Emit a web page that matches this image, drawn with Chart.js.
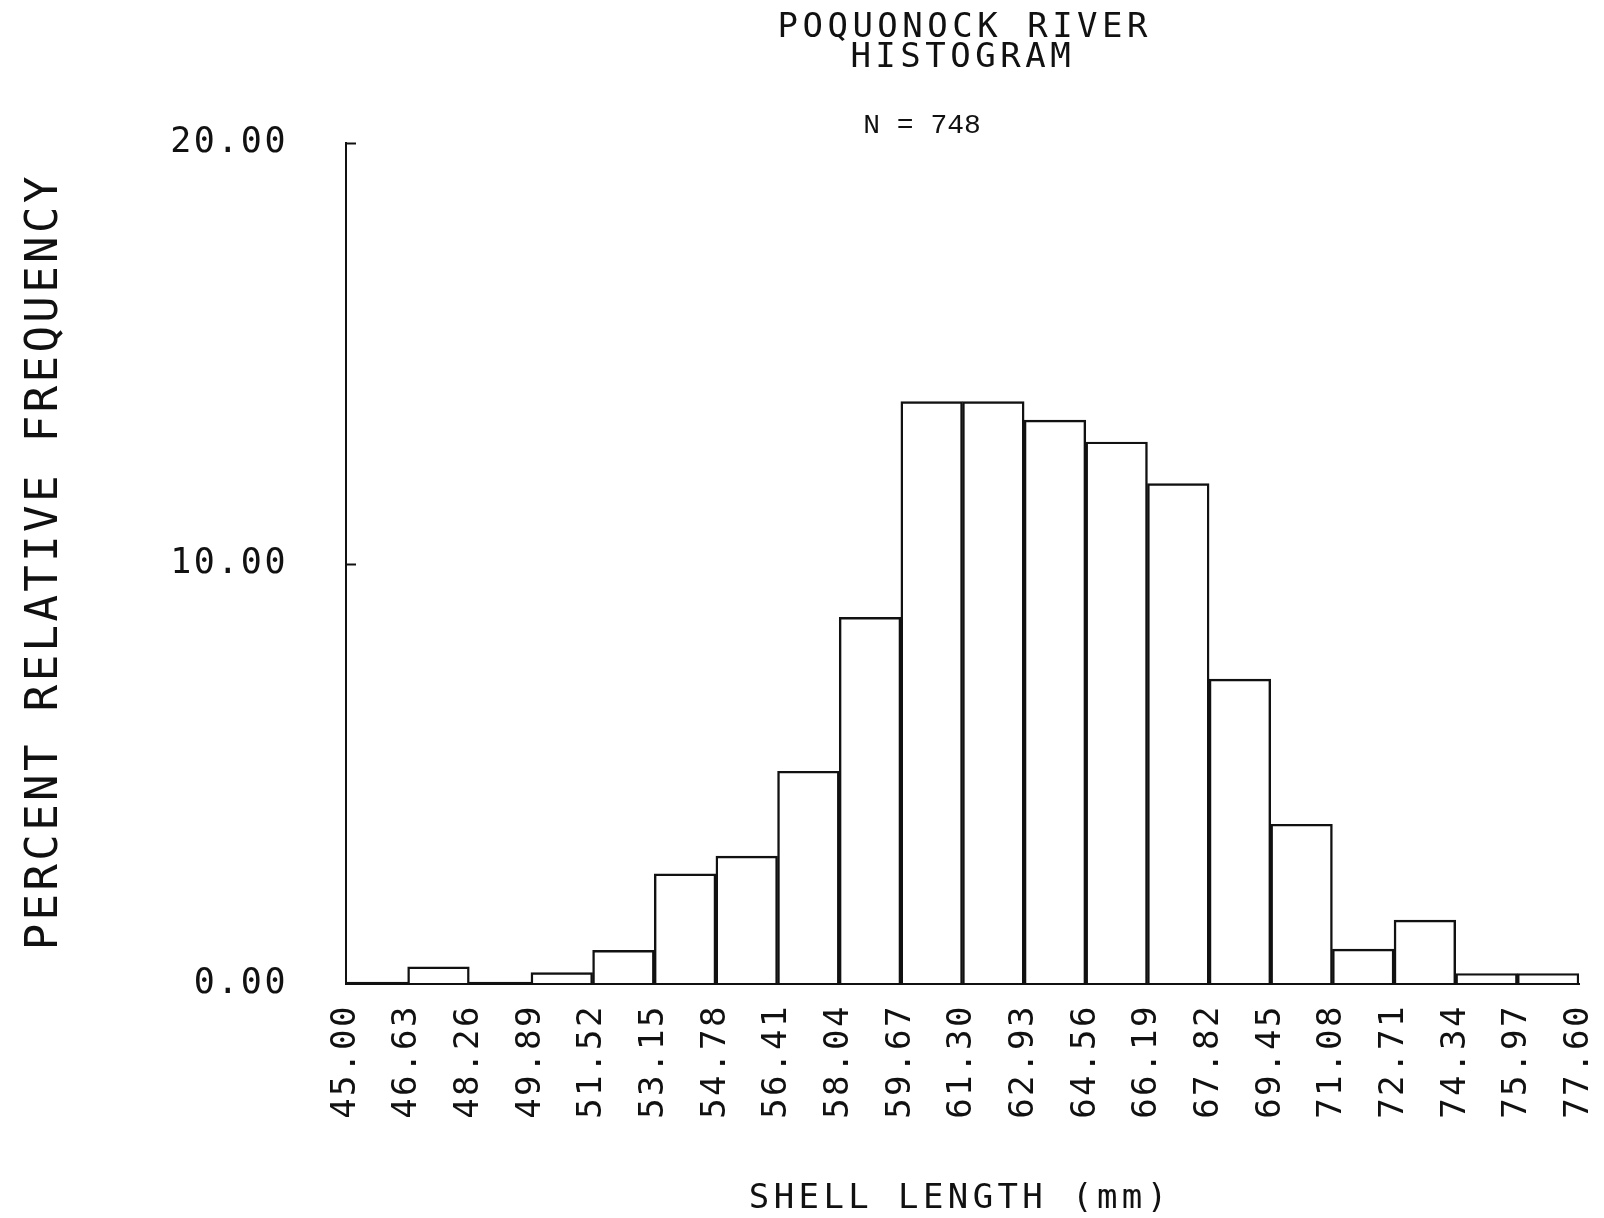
<!DOCTYPE html>
<html>
<head>
<meta charset="utf-8">
<title>Poquonock River histogram</title>
<script src="https://cdn.jsdelivr.net/npm/chart.js@4.4.1/dist/chart.umd.min.js"></script>
<style>
  html, body { margin: 0; padding: 0; background: #fff; }
  canvas { display: block; }
</style>
</head>
<body>
<canvas id="histogram" width="1604" height="1218"></canvas>
<script>
// shell length class boundaries (mm)
const binEdges = [45.00, 46.63, 48.26, 49.89, 51.52, 53.15, 54.78, 56.41, 58.04, 59.67, 61.30,
                  62.93, 64.56, 66.19, 67.82, 69.45, 71.08, 72.71, 74.34, 75.97, 77.60];
// percent of shells falling in each class
const percentFreq = [0.00, 0.41, 0.00, 0.27, 0.80, 2.62, 3.04, 5.06, 8.72, 13.85,
                     13.85, 13.41, 12.89, 11.90, 7.25, 3.80, 0.83, 1.52, 0.25, 0.25];
const yTicks = [0, 10, 20];
const sampleSize = 748;

const INK = '#111';
const MONO = '"DejaVu Sans Mono", "Liberation Mono", monospace';

// bars sit between consecutive edges
const bars = percentFreq.map((p, i) => ({ x: (binEdges[i] + binEdges[i + 1]) / 2, y: p }));

// draws text with extra spacing, keeping the centre where asked
function spaced(ctx, text, x, y, px, spacing) {
  ctx.font = px + 'px ' + MONO;
  ctx.letterSpacing = spacing + 'px';
  ctx.fillText(text, x + spacing / 2, y);
}

const plotterText = {
  id: 'plotterText',
  beforeDraw(chart) {
    // tick labels get the wide plotter spacing too
    chart.ctx.letterSpacing = '2.5px';
  },
  afterDraw(chart) {
    const { ctx, chartArea: a, scales: { y } } = chart;
    ctx.save();
    ctx.fillStyle = INK;
    ctx.strokeStyle = INK;

    // short inward ticks on the y axis
    ctx.lineWidth = 2;
    yTicks.slice(1).forEach(v => {
      const py = Math.round(y.getPixelForValue(v)) + 0.5;
      ctx.beginPath();
      ctx.moveTo(a.left, py);
      ctx.lineTo(a.left + 10, py);
      ctx.stroke();
    });

    const cx = (a.left + a.right) / 2;
    ctx.textAlign = 'center';
    ctx.textBaseline = 'alphabetic';
    spaced(ctx, 'POQUONOCK RIVER', cx, 37, 34, 4.5);
    spaced(ctx, 'HISTOGRAM', cx - 2, 67, 34, 4.5);

    ctx.font = '28px "Liberation Mono", monospace';
    ctx.letterSpacing = '0px';
    ctx.fillText('N = ' + sampleSize, 922, 133);

    spaced(ctx, 'SHELL LENGTH (mm)', 958, 1208, 34, 4.4);

    ctx.translate(57, (a.top + a.bottom) / 2);
    ctx.rotate(-Math.PI / 2);
    spaced(ctx, 'PERCENT RELATIVE FREQUENCY', 0, 0, 44, 3.4);
    ctx.restore();
  }
};

new Chart(document.getElementById('histogram').getContext('2d'), {
  type: 'bar',
  data: {
    datasets: [{
      data: bars,
      backgroundColor: 'rgba(0,0,0,0)',
      borderColor: INK,
      borderWidth: 1.8,
      borderSkipped: 'start',
      minBarLength: 2,
      barPercentage: 1,
      categoryPercentage: 1
    }]
  },
  options: {
    responsive: false,
    animation: false,
    events: [],
    layout: { padding: { top: 143, right: 25, left: 0, bottom: 0 } },
    plugins: { legend: { display: false }, tooltip: { enabled: false }, title: { display: false } },
    scales: {
      x: {
        type: 'linear',
        offset: false,
        min: binEdges[0],
        max: binEdges[binEdges.length - 1],
        afterBuildTicks: s => { s.ticks = binEdges.map(v => ({ value: v })); },
        afterFit: s => {
          s.height = 234;
          // end labels may hang past the plot edge
          s.paddingLeft = 0;
          s.paddingRight = 0;
        },
        grid: { display: false, offset: false },
        border: { display: true, color: INK, width: 2, dash: [7, 5] },
        ticks: {
          autoSkip: false,
          minRotation: 90,
          maxRotation: 90,
          padding: 12,
          color: INK,
          font: { family: MONO, size: 34 },
          callback: v => v.toFixed(2)
        }
      },
      y: {
        min: yTicks[0],
        max: yTicks[yTicks.length - 1],
        afterBuildTicks: s => { s.ticks = yTicks.map(v => ({ value: v })); },
        afterFit: s => { s.width = 346; },
        grid: { display: false },
        border: { display: true, color: INK, width: 2 },
        ticks: {
          padding: 50,
          color: INK,
          font: { family: MONO, size: 35 },
          callback: v => v.toFixed(2)
        }
      }
    }
  },
  plugins: [plotterText]
});
</script>
</body>
</html>
